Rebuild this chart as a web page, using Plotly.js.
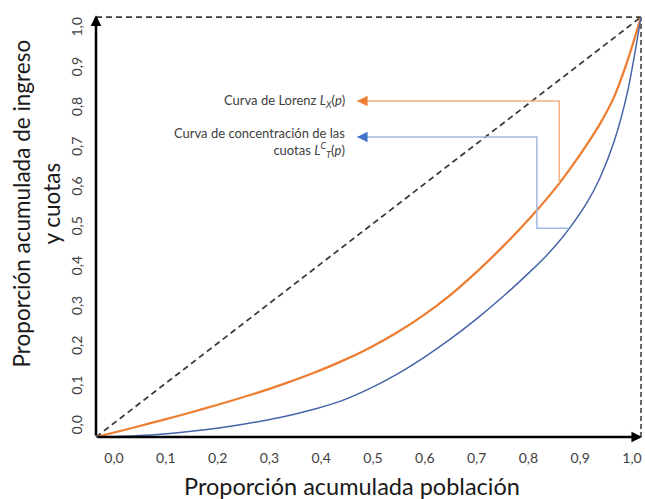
<!DOCTYPE html>
<html><head><meta charset="utf-8">
<script src="https://cdn.plot.ly/plotly-3.0.1.min.js"></script>
<style>html,body{margin:0;padding:0;background:#fff}#chart{width:645px;height:499px}</style>
</head><body><div id="chart"></div>
<script>
// ---- data ----
const p = [0, 0.05, 0.1, 0.15, 0.2, 0.25, 0.3, 0.35, 0.4, 0.45, 0.5, 0.55, 0.6, 0.65, 0.7, 0.75, 0.8, 0.825, 0.85, 0.875, 0.9, 0.925, 0.95, 0.975, 1];
const lorenz = [0, 0.016, 0.033, 0.050, 0.068, 0.087, 0.107, 0.129, 0.153, 0.180, 0.211, 0.247, 0.289, 0.338, 0.395, 0.458, 0.527, 0.564, 0.604, 0.648, 0.695, 0.746, 0.808, 0.895, 1.0];
const concentration = [0, 0.002, 0.005, 0.010, 0.017, 0.026, 0.037, 0.050, 0.066, 0.086, 0.114, 0.148, 0.188, 0.233, 0.283, 0.338, 0.398, 0.430, 0.466, 0.508, 0.556, 0.618, 0.701, 0.820, 1.0];
const equalityX = [0, 1];
const equalityY = [0, 1];
const boxTopX = [0, 1];
const boxTopY = [1, 1];
const boxRightX = [1, 1];
const boxRightY = [0, 1];
const tickVals = [0, 0.1, 0.2, 0.3, 0.4, 0.5, 0.6, 0.7, 0.8, 0.9, 1.0];
const tickText = ["0,0", "0,1", "0,2", "0,3", "0,4", "0,5", "0,6", "0,7", "0,8", "0,9", "1,0"];
const xTitle = "Proporción acumulada población";
const yTitle = "Proporción acumulada de ingreso<br>y cuotas";
const lorenzLabel = "Curva de Lorenz <i>L</i><sub><i>X</i></sub>(<i>p</i>)";
const concLabel = "Curva de concentración de las<br>cuotas <i>L</i><sup><i>C</i></sup><sub><i>T</i></sub>(<i>p</i>)";

// ---- styles ----
const FONT = "Lato, 'Open Sans', sans-serif";
const dashStyle = {color: '#3a3a3a', width: 1.75, dash: '6px,4px'};

const traces = [
  {x: equalityX, y: equalityY, mode: 'lines', line: dashStyle, hoverinfo: 'skip', showlegend: false},
  {x: boxTopX, y: boxTopY, mode: 'lines', line: dashStyle, hoverinfo: 'skip', showlegend: false},
  {x: boxRightX, y: boxRightY, mode: 'lines', line: {color: '#6a6a6a', width: 2, dash: '5px,3px'}, hoverinfo: 'skip', showlegend: false},
  {x: p, y: lorenz, name: 'Curva de Lorenz', mode: 'lines', line: {color: '#ED7D31', width: 2.25, shape: 'spline', smoothing: 0.8}, showlegend: false},
  {x: p, y: concentration, name: 'Curva de concentración', mode: 'lines', line: {color: '#4664A8', width: 1.5, shape: 'spline', smoothing: 0.8}, showlegend: false},
  // empty trace that carries the tick-label axes
  {x: [], y: [], xaxis: 'x2', yaxis: 'y2', mode: 'lines', hoverinfo: 'skip', showlegend: false}
];

// connector anchor points (on the curves)
const iL = p.indexOf(0.85);
const lorenzConn = {y: 0.8, xTip: 0.479, xBend: p[iL], yEnd: lorenz[iL]};
const concConn = {y: 0.714, xTip: 0.479, xBend: 0.809, yBend: 0.497, xEnd: 0.868};

const layout = {
  width: 645, height: 499,
  margin: {l: 90, r: 0, t: 12, b: 57},
  paper_bgcolor: '#fff', plot_bgcolor: '#fff',
  font: {family: FONT, color: '#404040'},
  showlegend: false,
  xaxis: {range: [-0.01101, 1.00734], showgrid: false, zeroline: false, showline: false, showticklabels: false, ticks: '', fixedrange: true},
  yaxis: {range: [-0.0119, 1.0119], showgrid: false, zeroline: false, showline: false, showticklabels: false, ticks: '', fixedrange: true},
  xaxis2: {overlaying: 'x', anchor: 'y2', side: 'bottom', range: [-0.04633, 1.0251], tickmode: 'array', tickvals: tickVals, ticktext: tickText,
           showgrid: false, zeroline: false, showline: false, ticks: '', ticklabelstandoff: 6, tickfont: {size: 14, color: '#404040', family: FONT}},
  yaxis2: {overlaying: 'y', anchor: 'x2', side: 'left', range: [-0.03769, 1.04271], tickmode: 'array', tickvals: tickVals, ticktext: tickText, tickangle: -90,
           showgrid: false, zeroline: false, showline: false, ticks: '', ticklabelstandoff: 4, tickfont: {size: 14, color: '#404040', family: FONT}},
  shapes: [
    {type: 'path', xref: 'x', yref: 'y', line: {color: '#F4B183', width: 1.5},
     path: `M ${lorenzConn.xTip},${lorenzConn.y} L ${lorenzConn.xBend},${lorenzConn.y} L ${lorenzConn.xBend},${lorenzConn.yEnd}`},
    {type: 'path', xref: 'x', yref: 'y', line: {color: '#A3B9E2', width: 1.5},
     path: `M ${concConn.xTip},${concConn.y} L ${concConn.xBend},${concConn.y} L ${concConn.xBend},${concConn.yBend} L ${concConn.xEnd},${concConn.yBend}`}
  ],
  annotations: [
    // axis arrows
    {x: 0, y: 1.004, ax: 0, ay: 0, xref: 'x', yref: 'y', axref: 'x', ayref: 'y', text: '', showarrow: true, arrowhead: 2, arrowsize: 0.85, arrowwidth: 2.5, arrowcolor: '#000'},
    {x: 1.002, y: 0, ax: 0, ay: 0, xref: 'x', yref: 'y', axref: 'x', ayref: 'y', text: '', showarrow: true, arrowhead: 2, arrowsize: 0.85, arrowwidth: 2.5, arrowcolor: '#000'},
    // connector arrowheads
    {x: lorenzConn.xTip, y: lorenzConn.y, ax: lorenzConn.xTip + 0.016, ay: lorenzConn.y, xref: 'x', yref: 'y', axref: 'x', ayref: 'y', text: '', showarrow: true, arrowhead: 2, arrowsize: 1.4, arrowwidth: 1.5, arrowcolor: '#ED7D31'},
    {x: concConn.xTip, y: concConn.y, ax: concConn.xTip + 0.016, ay: concConn.y, xref: 'x', yref: 'y', axref: 'x', ayref: 'y', text: '', showarrow: true, arrowhead: 2, arrowsize: 1.4, arrowwidth: 1.5, arrowcolor: '#4472C4'},
    // labels
    {x: 0.4606, y: lorenzConn.y, xref: 'x', yref: 'y', xanchor: 'right', yanchor: 'middle', align: 'right', showarrow: false, text: lorenzLabel, font: {size: 13, color: '#404040', family: FONT}},
    {x: 0.4606, y: concConn.y, xref: 'x', yref: 'y', xanchor: 'right', yanchor: 'top', yshift: 14, align: 'right', showarrow: false, text: concLabel, font: {size: 13, color: '#404040', family: FONT}},
    // axis titles
    {x: 0.47, y: -0.102, xref: 'x', yref: 'paper', xanchor: 'center', yanchor: 'middle', showarrow: false, text: xTitle, font: {size: 23.5, color: '#1a1a1a', family: FONT}},
    {x: -0.0965, y: 0.557, xref: 'paper', yref: 'y', xanchor: 'center', yanchor: 'middle', textangle: -90, showarrow: false, text: yTitle, font: {size: 22.5, color: '#1a1a1a', family: FONT}}
  ]
};

Plotly.newPlot('chart', traces, layout, {displayModeBar: false, staticPlot: true});
</script>
</body></html>
